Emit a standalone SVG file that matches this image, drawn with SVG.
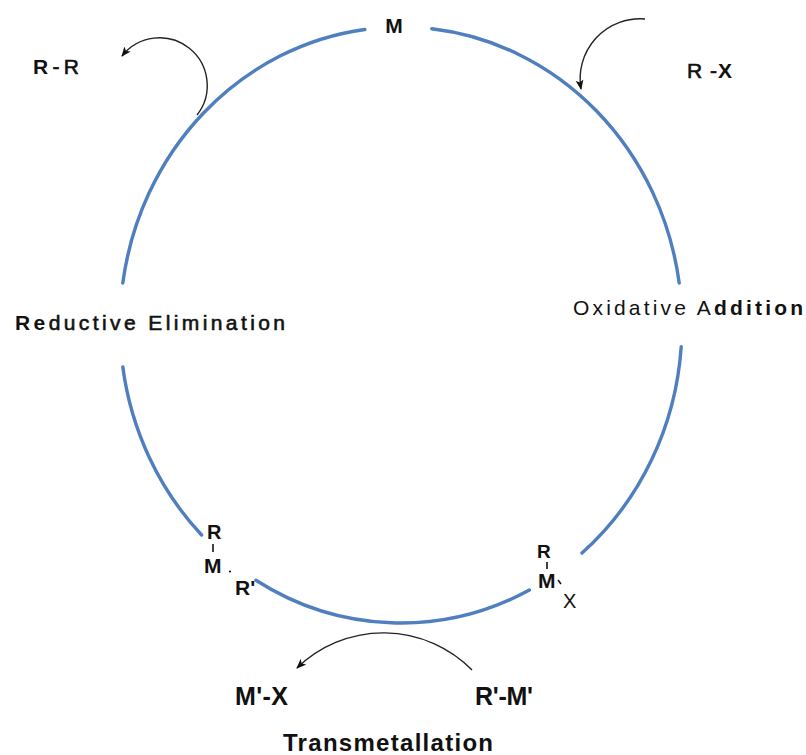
<svg xmlns="http://www.w3.org/2000/svg" width="806" height="755" viewBox="0 0 806 755">
<style>
text{font-family:"Liberation Sans",Arial,sans-serif;fill:#111}
.b{font-weight:bold}
.semi{stroke:#111;stroke-width:0.6}
.cyc{fill:none;stroke:#4f7fbe;stroke-width:3.4;stroke-linecap:round}
.arr{fill:none;stroke:#222;stroke-width:1.4}
.bond{stroke:#111;stroke-width:1.6}
</style>
<defs>
<marker id="ah" viewBox="0 0 10 8" refX="9" refY="4" markerWidth="10" markerHeight="8" orient="auto" markerUnits="userSpaceOnUse">
<path d="M0,0 L10,4 L0,8 L2.5,4 z" fill="#111"/>
</marker>
</defs>
<rect width="806" height="755" fill="#fff"/>
<g id="connectors">
<path class="cyc" d="M431.8,28.8 A281,298 0 0 1 679.2,283"/>
<path class="cyc" d="M681.2,346.8 A281,298 0 0 1 582,553"/>
<path class="cyc" d="M529.4,590 A281,298 0 0 1 255.9,580.2"/>
<path class="cyc" d="M201.6,535 A281,298 0 0 1 122.8,367"/>
<path class="cyc" d="M122.8,283 A281,298 0 0 1 364.8,29.5"/>
<path class="arr" d="M197,115 A46,46 0 1 0 122,56" marker-end="url(#ah)"/>
<path class="arr" d="M645,19 A60,60 0 0 0 581,89" marker-end="url(#ah)"/>
<path class="arr" d="M472,670 A124,124 0 0 0 297,668" marker-end="url(#ah)"/>
</g>
<g id="node-M"><text x="394" y="33" class="b" font-size="21" text-anchor="middle">M</text></g>
<g id="node-RR"><text x="33" y="74" font-size="21" textLength="46" lengthAdjust="spacing"><tspan class="b">R</tspan><tspan class="semi">-R</tspan></text></g>
<g id="node-RX"><text x="687" y="78" font-size="21" textLength="45" lengthAdjust="spacing"><tspan class="semi">R -</tspan><tspan class="b">X</tspan></text></g>
<g id="node-reductive"><text x="15" y="330" font-size="21" textLength="270" lengthAdjust="spacing"><tspan class="b">Re</tspan><tspan class="semi">ductive Elimination</tspan></text></g>
<g id="node-oxidative"><text x="573" y="315" font-size="21" textLength="230" lengthAdjust="spacing">Oxidative A<tspan class="b">ddition</tspan></text></g>
<g id="node-RMR">
<text x="207" y="539" class="b" font-size="20">R</text>
<line class="bond" x1="213" y1="544" x2="213" y2="552"/>
<text x="204" y="573" class="b" font-size="21">M</text>
<circle cx="230" cy="571.5" r="1.1" fill="#111"/>
<text x="235" y="595" class="b" font-size="21">R'</text>
</g>
<g id="node-RMX">
<text x="537" y="558" class="b" font-size="19">R</text>
<line class="bond" x1="547" y1="562" x2="547" y2="569"/>
<text x="538" y="588" class="b" font-size="21">M</text>
<line class="bond" x1="558" y1="580" x2="561" y2="584" stroke-width="1.2"/>
<text x="563" y="608" font-size="20">X</text>
</g>
<g id="node-MX"><text x="235" y="705" class="b" font-size="25" textLength="53" lengthAdjust="spacing">M'-X</text></g>
<g id="node-RM"><text x="475" y="705" class="b" font-size="25" textLength="58" lengthAdjust="spacing">R'-M'</text></g>
<g id="node-trans"><text x="283" y="751" class="b" font-size="24" textLength="210" lengthAdjust="spacing">Transmetallation</text></g>
</svg>
